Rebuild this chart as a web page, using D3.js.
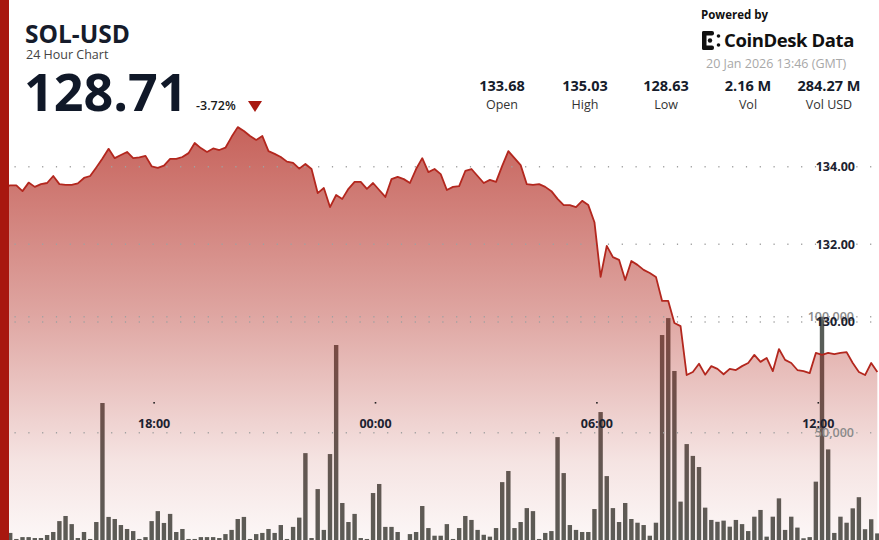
<!DOCTYPE html>
<html>
<head>
<meta charset="utf-8">
<script src="https://cdn.jsdelivr.net/npm/d3@7"></script>
<style>
  html, body { margin: 0; padding: 0; background: #fff; }
  svg { display: block; font-family: "Open Sans", "Noto Sans", sans-serif; }
</style>
</head>
<body>
<svg id="chart" width="879" height="540"></svg>
<script>
// ---------------- DATA ----------------
const symbol = "SOL-USD";
const subtitle = "24 Hour Chart";
const lastPrice = "128.71";
const changePct = "-3.72%";
const statValues = ["133.68", "135.03", "128.63", "2.16 M", "284.27 M"];
const statLabels = ["Open", "High", "Low", "Vol", "Vol USD"];
const timestampText = "20 Jan 2026 13:46 (GMT)";
const startTime = "2026-01-19T13:46:00Z";
const endTime = "2026-01-20T13:46:00Z";
const stepMinutes = 10;

const prices = [
  133.50,133.48,133.52,133.52,133.37,133.59,133.48,133.55,133.58,133.76,
  133.55,133.53,133.53,133.57,133.71,133.76,133.98,134.21,134.46,134.22,
  134.30,134.38,134.22,134.24,134.28,134.01,133.97,134.03,134.20,134.20,
  134.25,134.35,134.61,134.48,134.38,134.47,134.43,134.49,134.77,135.02,
  134.92,134.79,134.69,134.79,134.40,134.33,134.25,134.13,134.10,133.95,
  134.07,133.94,133.32,133.45,132.96,133.27,133.17,133.43,133.61,133.61,
  133.43,133.58,133.40,133.22,133.68,133.74,133.68,133.58,133.94,134.22,
  133.86,133.94,133.81,133.40,133.48,133.50,133.89,133.94,133.76,133.58,
  133.66,133.61,134.02,134.40,134.22,134.04,133.55,133.53,133.55,133.48,
  133.37,133.17,133.01,133.01,132.96,133.12,133.01,132.57,131.16,131.96,
  131.67,131.60,131.08,131.57,131.47,131.34,131.26,131.16,130.54,130.54,
  129.97,129.89,128.63,128.71,128.92,128.64,128.86,128.79,128.65,128.79,
  128.76,128.86,128.94,129.15,128.97,129.07,128.73,129.30,129.02,128.94,
  128.76,128.73,128.68,129.20,129.15,129.20,129.17,129.20,129.22,128.94,
  128.71,128.63,128.94,128.71
];

const volumes = [
  5900,5500,6800,4200,5000,5000,4600,4600,5900,7200,
  11900,14100,10600,4600,7200,4200,11500,62800,13700,12800,
  10200,8500,7600,4200,5000,11900,16200,11100,15000,7200,
  8500,4200,4200,5000,5000,5000,4600,6300,8100,12800,
  13700,4200,6300,6800,8500,6800,10200,4200,9400,13400,
  41200,4600,25700,8100,40800,87800,19700,11500,15000,4600,
  4200,24000,27900,9400,9400,7200,3700,6300,7200,18400,
  8900,5600,5600,10600,4200,8900,14100,12400,8100,6000,
  5200,8900,28700,33500,8900,11500,17500,16200,4200,6800,
  7600,48100,32600,10200,8100,7200,7200,17100,58900,31300,
  17500,11500,19700,12800,11200,10200,5600,11200,92100,99400,
  76600,20300,45100,40000,35200,17700,12400,11600,12100,9500,
  12400,10600,7600,13800,16700,5200,13800,21700,8100,13800,
  9100,4500,5000,28900,100000,42800,6800,13800,11200,17400,
  22200,8400,12700,6600
];

const priceTicks = [134, 132, 130];
const volumeTicks = [100000, 50000];
const timeTicks = ["2026-01-19T18:00:00Z", "2026-01-20T00:00:00Z", "2026-01-20T06:00:00Z", "2026-01-20T12:00:00Z"];
const timeTickLabels = ["18:00", "00:00", "06:00", "12:00"];

// ---------------- CHART ----------------
const W = 879, H = 540;
const svg = d3.select("#chart");
const t0 = new Date(startTime), t1 = new Date(endTime);
const times = prices.map((_, i) => new Date(t0.getTime() + i * stepMinutes * 60000));

const x = d3.scaleUtc().domain([t0, t1]).range([-2.1, 883.5]);
const y = d3.scaleLinear().domain([130, 134]).range([321.9, 166.7]);
const yv = d3.scaleLinear().domain([0, 100000]).range([548.7, 316.7]);

const defs = svg.append("defs");
const grad = defs.append("linearGradient").attr("id", "areaGrad")
  .attr("gradientUnits", "userSpaceOnUse").attr("x1", 0).attr("x2", 0).attr("y1", 125).attr("y2", 545);
grad.append("stop").attr("offset", "0%").attr("stop-color", "rgb(178,42,32)").attr("stop-opacity", 0.74);
grad.append("stop").attr("offset", "45%").attr("stop-color", "rgb(178,42,32)").attr("stop-opacity", 0.42);
grad.append("stop").attr("offset", "80%").attr("stop-color", "rgb(178,42,32)").attr("stop-opacity", 0.13);
grad.append("stop").attr("offset", "100%").attr("stop-color", "rgb(178,42,32)").attr("stop-opacity", 0.03);

// volume bars (under the translucent area)
const barW = 4.4;
svg.append("g").selectAll("rect").data(volumes).join("rect")
  .attr("x", (d, i) => x(times[i]) - barW / 2)
  .attr("y", d => yv(d))
  .attr("width", barW)
  .attr("height", d => yv(0) - yv(d))
  .attr("fill", "#585d58");

// area
const area = d3.area().x((d, i) => x(times[i])).y0(H).y1(d => y(d));
svg.append("path").datum(prices).attr("d", area).attr("fill", "url(#areaGrad)");

// grid lines (dotted)
const gridG = svg.append("g");
priceTicks.forEach(v => {
  gridG.append("line").attr("x1", 14.5).attr("x2", W).attr("y1", y(v)).attr("y2", y(v))
    .attr("stroke", "#a0a0a0").attr("stroke-width", 1.5).attr("stroke-dasharray", "1.2,12.6");
});
volumeTicks.forEach(v => {
  gridG.append("line").attr("x1", 14.5).attr("x2", W).attr("y1", yv(v)).attr("y2", yv(v))
    .attr("stroke", "#a0a0a0").attr("stroke-width", 1.5).attr("stroke-dasharray", "1.2,12.6");
});

// price line
const line = d3.line().x((d, i) => x(times[i])).y(d => y(d));
svg.append("path").datum(prices).attr("d", line)
  .attr("fill", "none").attr("stroke", "#b3271e").attr("stroke-width", 1.8).attr("stroke-linejoin", "round");

// x-axis labels
const xg = svg.append("g");
timeTicks.forEach((t, i) => {
  const xx = x(new Date(t));
  xg.append("rect").attr("x", xx - 0.8).attr("y", 402).attr("width", 1.6).attr("height", 1.6).attr("fill", "#222");
  xg.append("text").attr("x", xx).attr("y", 427.5).attr("text-anchor", "middle")
    .attr("font-size", 12.5).attr("font-weight", 700).attr("fill", "#1c2230").text(timeTickLabels[i]);
});

// right-side axis labels
const fmtV = d3.format(",");
volumeTicks.forEach(v => {
  svg.append("text").attr("x", 854).attr("y", yv(v) + 4.5).attr("text-anchor", "end")
    .attr("font-size", 12.5).attr("font-weight", 600).attr("fill", "#8a8a8a").text(fmtV(v));
});
priceTicks.forEach(v => {
  svg.append("text").attr("x", 855).attr("y", y(v) + 4.5).attr("text-anchor", "end")
    .attr("font-size", 12.5).attr("font-weight", 700).attr("fill", "#1c2230").text(v.toFixed(2));
});

// left red bar
svg.append("rect").attr("x", 0).attr("y", 0).attr("width", 9).attr("height", H).attr("fill", "#a8170f");

// ---------------- HEADER ----------------
svg.append("text").attr("x", 25).attr("y", 43).attr("font-size", 24.5).attr("font-weight", 700)
  .attr("fill", "#161c2b").text(symbol);
svg.append("text").attr("x", 26).attr("y", 59).attr("font-size", 12.5).attr("fill", "#444")
  .text(subtitle);
svg.append("text").attr("x", 24).attr("y", 111).attr("font-size", 52).attr("font-weight", 700)
  .attr("fill", "#101828").text(lastPrice);
svg.append("text").attr("x", 196).attr("y", 110).attr("font-size", 12.5).attr("font-weight", 600)
  .attr("fill", "#1a1a1a").text(changePct);
svg.append("path").attr("d", "M248,101 L262,101 L255,112 Z").attr("fill", "#a8170f");

const statX = [502, 585, 666, 748, 829];
statValues.forEach((v, i) => {
  svg.append("text").attr("x", statX[i]).attr("y", 91).attr("text-anchor", "middle")
    .attr("font-size", 14.5).attr("font-weight", 700).attr("fill", "#161c2b").text(v);
  svg.append("text").attr("x", statX[i]).attr("y", 109).attr("text-anchor", "middle")
    .attr("font-size", 12.5).attr("fill", "#333").text(statLabels[i]);
});

svg.append("text").attr("x", 701).attr("y", 19).attr("font-size", 11.5).attr("font-weight", 700)
  .attr("fill", "#111").text("Powered by");
// CoinDesk logo mark (approximation)
const logo = svg.append("g").attr("fill", "#111");
logo.append("rect").attr("x", 702).attr("y", 31).attr("width", 4.5).attr("height", 19).attr("rx", 2);
logo.append("rect").attr("x", 702).attr("y", 31).attr("width", 12).attr("height", 4.5).attr("rx", 2);
logo.append("rect").attr("x", 702).attr("y", 45.5).attr("width", 12).attr("height", 4.5).attr("rx", 2);
logo.append("circle").attr("cx", 710).attr("cy", 40.5).attr("r", 2.2);
logo.append("circle").attr("cx", 718.5).attr("cy", 36).attr("r", 1.8);
logo.append("circle").attr("cx", 718.5).attr("cy", 45).attr("r", 1.8);
svg.append("text").attr("x", 724).attr("y", 47).attr("font-size", 18.5).attr("font-weight", 700)
  .attr("fill", "#111").attr("letter-spacing", -0.4).text("CoinDesk Data");
svg.append("text").attr("x", 706).attr("y", 68).attr("font-size", 12.5).attr("fill", "#a8a8a8")
  .text(timestampText);
</script>
</body>
</html>
